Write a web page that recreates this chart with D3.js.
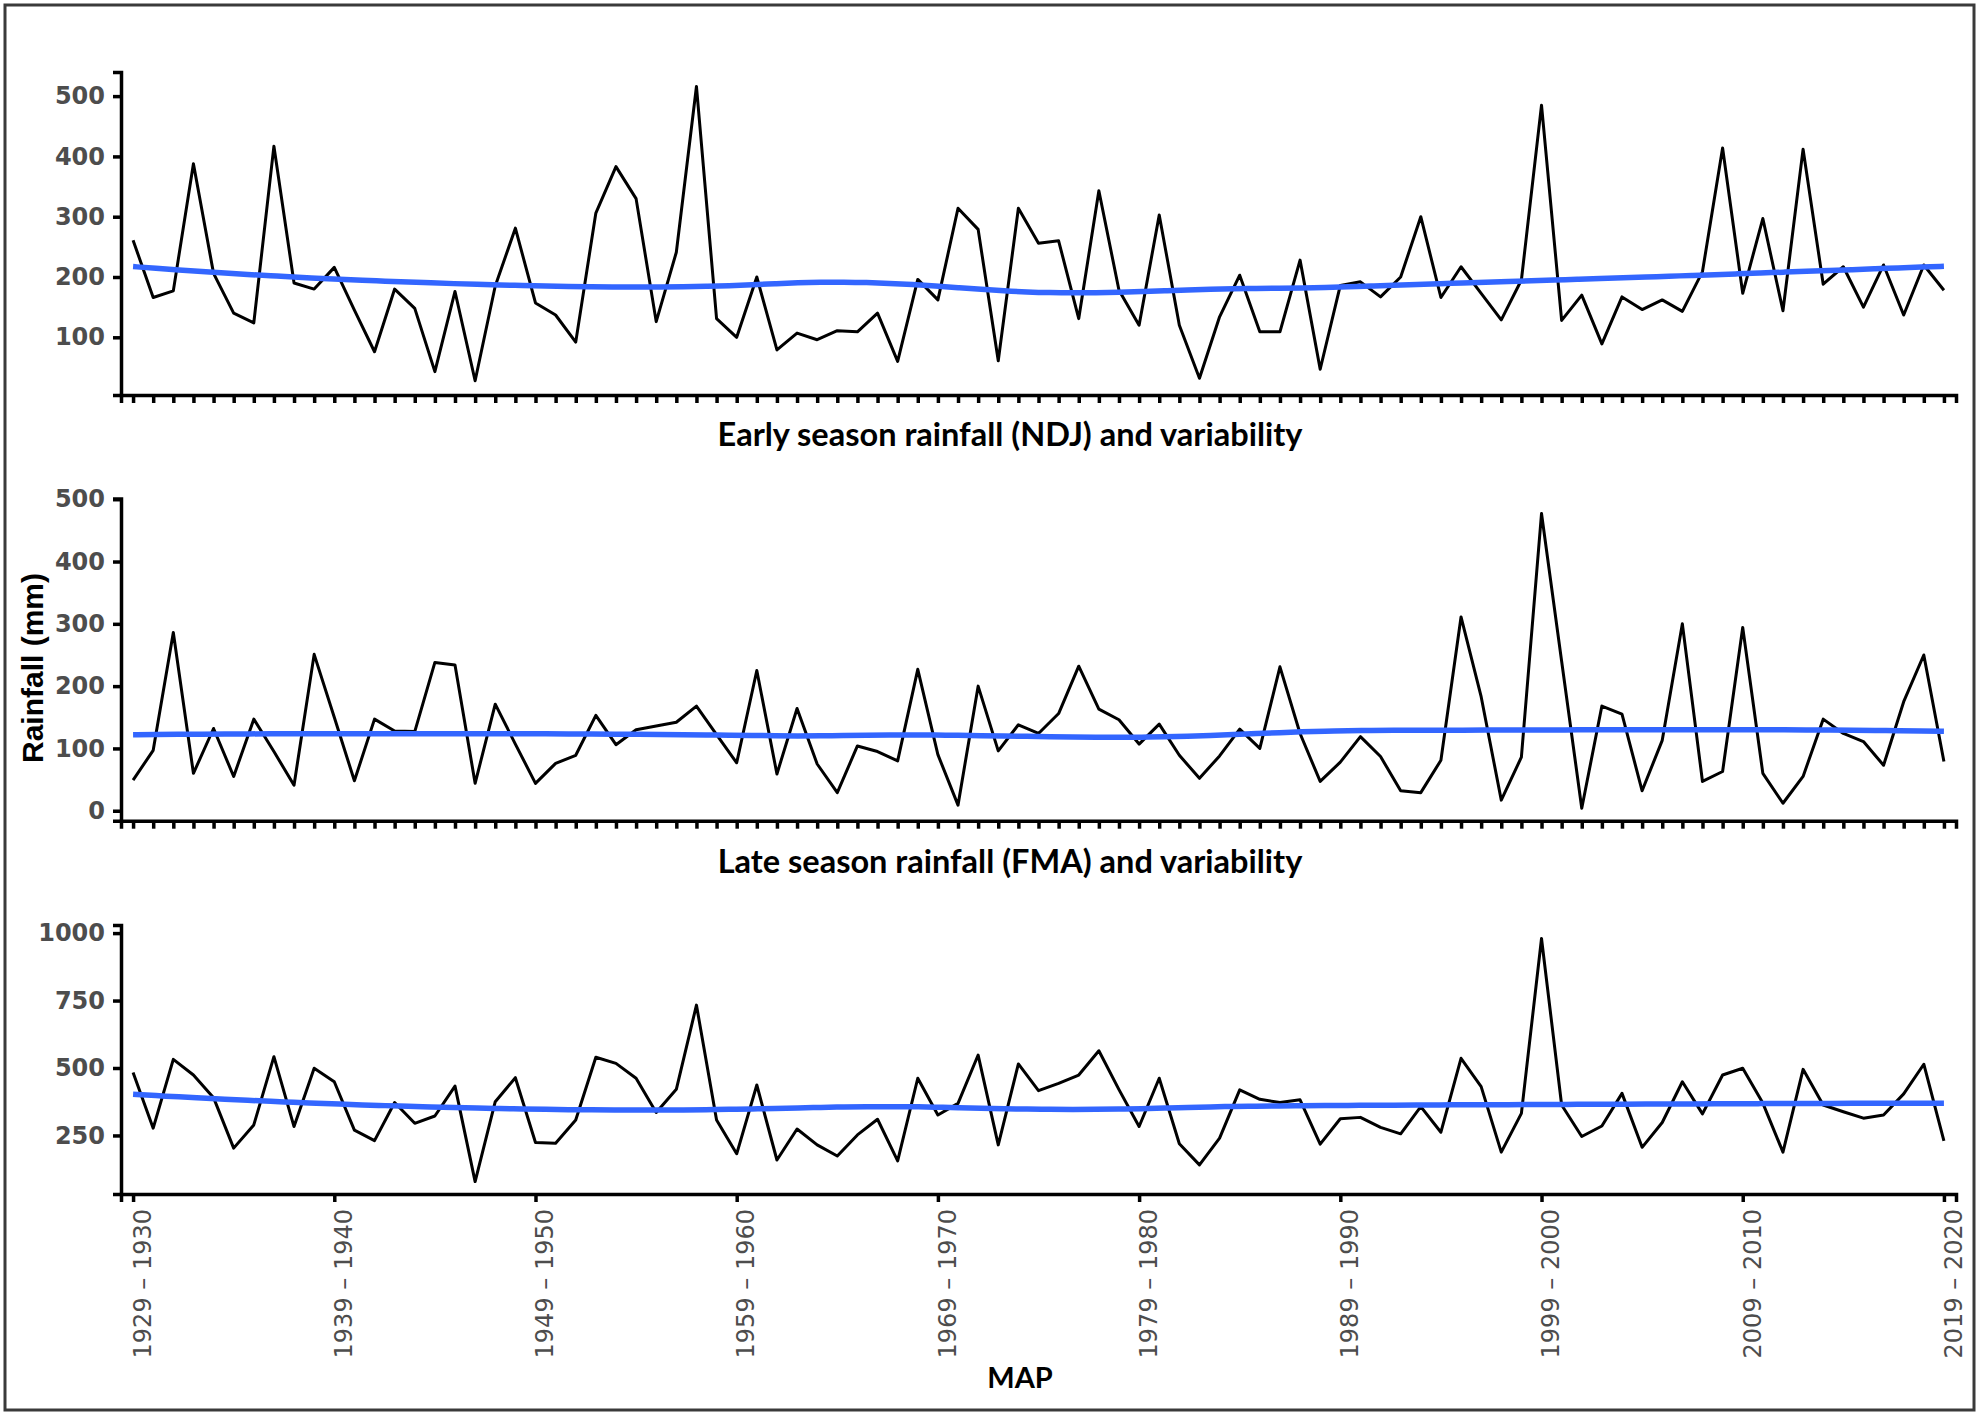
<!DOCTYPE html>
<html>
<head>
<meta charset="utf-8">
<script src="https://cdn.jsdelivr.net/npm/d3@7/dist/d3.min.js"></script>
<style>
  body { margin: 0; background: #fff; }
</style>
</head>
<body>
<div id="root"></div>
<script>
// seasons run 1929–1930 ... 2019–2020
const seasonStart = d3.range(1929, 2020);
const seasons = seasonStart.map(y => `${y} – ${y + 1}`);

const decadeLabels = ["1929 – 1930", "1939 – 1940", "1949 – 1950", "1959 – 1960", "1969 – 1970",
    "1979 – 1980", "1989 – 1990", "1999 – 2000", "2009 – 2010", "2019 – 2020"];

// Early season rainfall, Nov-Dec-Jan (mm)
const earlyNDJ = [261, 166, 177, 388, 206, 140, 124, 417, 190, 180,
    216, 145, 76, 180, 148, 43, 176, 28, 185, 281,
    157, 137, 92, 306, 383, 330, 126, 241, 516, 131,
    100, 200, 79, 107, 96, 111, 109, 140, 60, 196,
    162, 314, 279, 61, 314, 256, 260, 131, 343, 178,
    120, 303, 120, 32, 134, 203, 109, 109, 228, 47,
    186, 192, 167, 200, 300, 166, 217, 173, 129, 195,
    485, 128, 170, 89, 167, 146, 162, 143, 209, 414,
    173, 297, 144, 412, 188, 217, 150, 220, 137, 220, 178];

// Late season rainfall, Feb-Mar-Apr (mm)
const lateFMA = [49, 97, 286, 60, 132, 55, 147, 95, 41, 251,
    150, 48, 147, 128, 127, 238, 234, 44, 171, 107,
    44, 76, 89, 153, 106, 130, 136, 142, 168, 122,
    77, 225, 59, 164, 75, 29, 104, 95, 80, 227,
    90, 9, 200, 96, 138, 124, 156, 232, 163, 146,
    107, 139, 89, 52, 88, 131, 100, 231, 124, 47,
    78, 119, 87, 32, 29, 81, 311, 183, 17, 86,
    477, 240, 4, 168, 155, 32, 113, 300, 47, 63,
    294, 60, 12, 55, 147, 124, 111, 73, 175, 250, 79];

// Mean annual precipitation (mm)
const annualMAP = [483, 277, 532, 474, 390, 203, 289, 542, 283, 499,
    449, 270, 231, 372, 295, 322, 433, 79, 375, 464,
    224, 221, 307, 540, 517, 462, 335, 421, 733, 307,
    182, 437, 159, 274, 215, 174, 252, 310, 156, 462,
    326, 369, 548, 215, 515, 416, 443, 474, 564, 420,
    283, 462, 219, 141, 240, 419, 384, 372, 382, 218,
    312, 317, 280, 256, 357, 262, 536, 431, 188, 332,
    980, 363, 246, 285, 406, 206, 298, 449, 330, 474,
    499, 370, 188, 495, 363, 338, 314, 326, 404, 514, 230];

const earlyTicks = [100, 200, 300, 400, 500];
const lateTicks = [0, 100, 200, 300, 400, 500];
const mapTicks = [250, 500, 750, 1000];

// local quadratic loess with tricube weights (geom_smooth default)
function loess(xs, ys, span, at) {
    const q = Math.floor(xs.length * span);
    return at.map(x0 => {
        const dist = xs.map(x => Math.abs(x - x0));
        const h = dist.slice().sort((a, b) => a - b)[q - 1] * 1.0000001;
        const s = [0, 0, 0, 0, 0], t = [0, 0, 0];
        xs.forEach((x, i) => {
            const r = dist[i] / h;
            if (r >= 1) return;
            const w = Math.pow(1 - r * r * r, 3);
            const u = x - x0;
            s[0] += w; s[1] += w * u; s[2] += w * u * u; s[3] += w * u * u * u; s[4] += w * u * u * u * u;
            t[0] += w * ys[i]; t[1] += w * u * ys[i]; t[2] += w * u * u * ys[i];
        });
        const [a, b, c, e, f] = [s[0], s[1], s[2], s[3], s[4]];
        const d = c;
        const det = a * (d * f - e * e) - b * (b * f - e * c) + c * (b * e - d * c);
        const det0 = t[0] * (d * f - e * e) - b * (t[1] * f - e * t[2]) + c * (t[1] * e - d * t[2]);
        return [x0, det0 / det];
    });
}

document.addEventListener("DOMContentLoaded", () => {
    const width = 1983;
    const height = 1418;

    const svg = d3.select("#root").append("svg")
        .attr("width", width)
        .attr("height", height)
        .style("display", "block");

    svg.append("rect")
        .attr("x", 5).attr("y", 5)
        .attr("width", 1969).attr("height", 1405)
        .attr("fill", "#fff")
        .attr("stroke", "#3a3a3a")
        .attr("stroke-width", 3);

    const x = d3.scalePoint()
        .domain(seasons)
        .range([121, 1956])
        .padding(0.6);

    const xi = d3.scaleLinear()
        .domain([0, seasons.length - 1])
        .range([x(seasons[0]), x(seasons[seasons.length - 1])]);

    const panels = [
        { values: earlyNDJ, domain: [4.3, 540], range: [395, 72], ticks: earlyTicks,
          title: "Early season rainfall (NDJ) and variability", titleY: 446 },
        { values: lateFMA, domain: [-16, 501], range: [820.7, 498.6], ticks: lateTicks,
          title: "Late season rainfall (FMA) and variability", titleY: 873 },
        { values: annualMAP, domain: [33, 1030], range: [1194, 925], ticks: mapTicks,
          title: null }
    ];

    const idx = d3.range(seasons.length);
    const tickFont = "'DejaVu Sans', Verdana, sans-serif";

    panels.forEach(p => {
        const y = d3.scaleLinear().domain(p.domain).range(p.range);
        const g = svg.append("g");

        // x axis: every season on top panels, decades only on the bottom one
        const xAxis = d3.axisBottom(x)
            .tickSizeOuter(0)
            .tickSize(8)
            .tickPadding(10);
        if (p.title) {
            xAxis.tickFormat("");
        } else {
            xAxis.tickValues(decadeLabels);
        }

        const gx = g.append("g")
            .attr("transform", `translate(0,${p.range[0]})`)
            .call(xAxis);

        gx.select(".domain").attr("stroke", "#000").attr("stroke-width", 3.5);
        gx.selectAll(".tick line").attr("stroke", "#000").attr("stroke-width", 3.5);

        if (!p.title) {
            gx.selectAll(".tick text")
                .attr("transform", "rotate(-90)")
                .attr("text-anchor", "end")
                .attr("x", -15)
                .attr("y", 0)
                .attr("dy", "0.72em")
                .style("font-family", tickFont)
                .style("font-size", "24px")
                .attr("fill", "#4d4d4d");
        }

        const gy = g.append("g")
            .attr("transform", "translate(121,0)")
            .call(d3.axisLeft(y)
                .tickValues(p.ticks)
                .tickFormat(d3.format("d"))
                .tickSizeOuter(0)
                .tickSize(8)
                .tickPadding(8));

        gy.select(".domain").attr("stroke", "#000").attr("stroke-width", 3.5);
        gy.selectAll(".tick line").attr("stroke", "#000").attr("stroke-width", 3.5);
        gy.selectAll(".tick text")
            .style("font-family", tickFont)
            .style("font-size", "24px")
            .style("font-weight", "bold")
            .attr("fill", "#4d4d4d");

        g.append("path")
            .datum(p.values)
            .attr("fill", "none")
            .attr("stroke", "#000")
            .attr("stroke-width", 3)
            .attr("stroke-linejoin", "round")
            .attr("d", d3.line()
                .x((d, i) => x(seasons[i]))
                .y(d => y(d)));

        const at = d3.range(80).map(j => j * (seasons.length - 1) / 79);
        const smooth = loess(idx, p.values, 0.75, at);

        g.append("path")
            .datum(smooth)
            .attr("fill", "none")
            .attr("stroke", "#3366FF")
            .attr("stroke-width", 5.5)
            .attr("stroke-linecap", "butt")
            .attr("d", d3.line()
                .curve(d3.curveBasis)
                .x(d => xi(d[0]))
                .y(d => y(d[1])));

        if (p.title) {
            svg.append("text")
                .attr("x", 1010)
                .attr("y", p.titleY)
                .attr("text-anchor", "middle")
                .style("font-family", "Lato, 'Open Sans', sans-serif")
                .style("font-weight", "bold")
                .style("font-size", "32.5px")
                .attr("fill", "#000")
                .text(p.title);
        }
    });

    svg.append("text")
        .attr("transform", "translate(43,668) rotate(-90)")
        .attr("text-anchor", "middle")
        .style("font-family", "'Liberation Sans', Arial, sans-serif")
        .style("font-weight", "bold")
        .style("font-size", "30px")
        .attr("fill", "#000")
        .text("Rainfall (mm)");

    svg.append("text")
        .attr("x", 1020)
        .attr("y", 1388)
        .attr("text-anchor", "middle")
        .style("font-family", "Lato, 'Open Sans', sans-serif")
        .style("font-weight", "bold")
        .style("font-size", "29px")
        .attr("fill", "#000")
        .text("MAP");
});
</script>
</body>
</html>
